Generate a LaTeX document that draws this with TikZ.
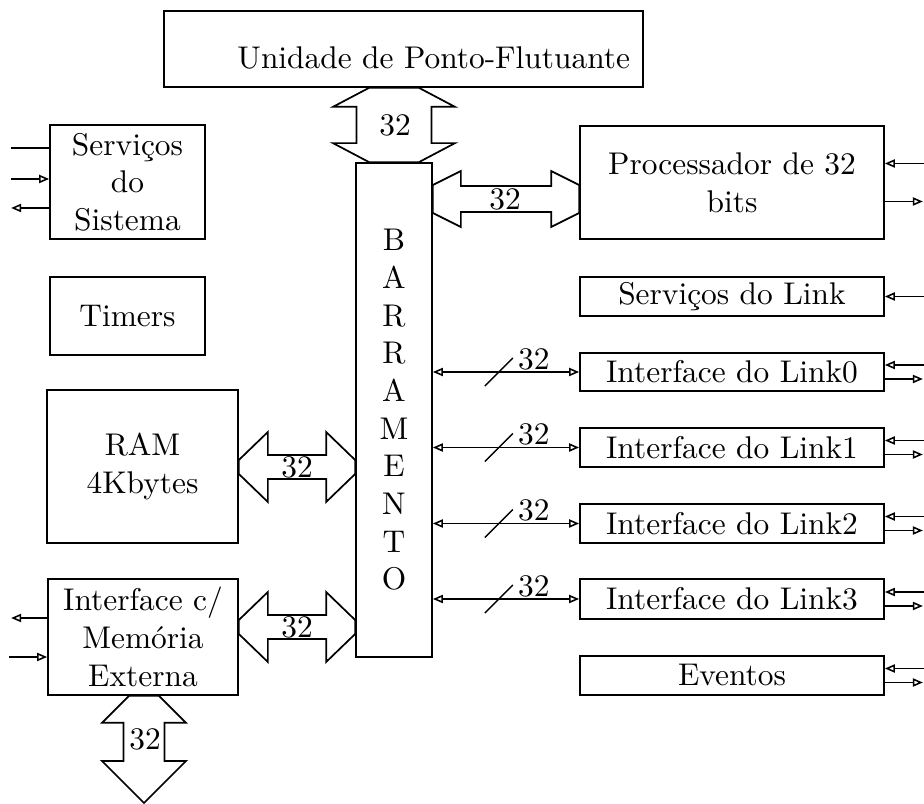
\documentclass[tikz,border=0pt]{standalone}
\usetikzlibrary{arrows.meta,calc}

% wide bus arrow, horizontal: #1 left end, #2 right end, #3 half shaft, #4 half head, #5 head length, #6 half tip
\newcommand\fatH[6]{\draw[fat]
  ($(#1)+(0,-#6)$) -- ($(#1)+(#5,-#4)$) -- ($(#1)+(#5,-#3)$) --
  ($(#2)+(-#5,-#3)$) -- ($(#2)+(-#5,-#4)$) -- ($(#2)+(0,-#6)$) --
  ($(#2)+(0,#6)$) -- ($(#2)+(-#5,#4)$) -- ($(#2)+(-#5,#3)$) --
  ($(#1)+(#5,#3)$) -- ($(#1)+(#5,#4)$) -- ($(#1)+(0,#6)$) -- cycle;}
% wide bus arrow, vertical: #1 top, #2 bottom, #3 half shaft, #4 half head,
% #5/#6 top head length / half tip, #7/#8 bottom head length / half tip
\newcommand\fatV[8]{\draw[fat]
  ($(#1)+(-#6,0)$) -- ($(#1)+(-#4,#5)$) -- ($(#1)+(-#3,#5)$) --
  ($(#2)+(-#3,-#7)$) -- ($(#2)+(-#4,-#7)$) -- ($(#2)+(-#8,0)$) --
  ($(#2)+(#8,0)$) -- ($(#2)+(#4,-#7)$) -- ($(#2)+(#3,-#7)$) --
  ($(#1)+(#3,#5)$) -- ($(#1)+(#4,#5)$) -- ($(#1)+(#6,0)$) -- cycle;}

\tikzset{
  box/.style={draw, line width=0.55pt, inner sep=0pt, align=center},
  sz/.style n args={2}{minimum width=#1*0.3185pt, minimum height=#2*0.3185pt},
  fat/.style={line width=0.55pt, line join=miter},
  wire/.style={line width=0.5pt},
  num/.style={inner sep=1pt},
  >={Triangle[open,length=3.2pt,width=2.6pt]},
}

\begin{document}
\begin{tikzpicture}[x=0.3185pt, y=-0.3185pt]
\useasboundingbox (0,0) rectangle (924,804);

% blocks
\node[box, sz={479}{76}, text width=453*0.3185pt, align=right,
      text height=12.5pt, text depth=0pt]
                          (fpu)    at (403.5,49)   {Unidade de Ponto-Flutuante};
\node[box, sz={76}{494}]  (bus)    at (394,410)    {B\\A\\R\\R\\A\\M\\E\\N\\T\\O};
\node[box, sz={155}{114}] (sist)   at (127.5,182)  {Serviços\\do\\Sistema};
\node[box, sz={155}{78}]  (timers) at (127.5,316)  {Timers};
\node[box, sz={191}{153}] (ram)    at (142.5,466.5){RAM\\4Kbytes};
\node[box, sz={190}{116}] (mem)    at (143,637)    {Interface c/\\Memória\\Externa};
\node[box, sz={304}{113}] (proc)   at (732,182.5)  {Processador de 32\\bits};
\node[box, sz={304}{39}]  (slink)  at (732,296.5)  {Serviços do Link};
\node[box, sz={304}{38}]  (l0)     at (732,372)    {Interface do Link0};
\node[box, sz={304}{39}]  (l1)     at (732,447.5)  {Interface do Link1};
\node[box, sz={304}{39}]  (l2)     at (732,523.5)  {Interface do Link2};
\node[box, sz={304}{40}]  (l3)     at (732,599)    {Interface do Link3};
\node[box, sz={304}{39}]  (ev)     at (732,675.5)  {Eventos};

% wide 32-bit paths
\coordinate (yproc) at (500,199);
\coordinate (yram)  at (300,467);
\coordinate (ymem)  at (300,627);
\coordinate (xext)  at (144,803);
\coordinate (fpuB)  at (bus.north |- fpu.south);
\coordinate (procA) at (bus.east |- yproc);
\coordinate (procB) at (proc.west |- yproc);
\coordinate (ramA)  at (ram.east |- yram);
\coordinate (ramB)  at (bus.west |- yram);
\coordinate (memA)  at (mem.east |- ymem);
\coordinate (memB)  at (bus.west |- ymem);
\coordinate (extA)  at (mem.south -| xext);

\fatV{fpuB}{bus.north}{37.5}{61}{19}{25}{19}{25}
\fatH{procA}{procB}{13}{28}{28}{14}
\fatH{ramA}{ramB}{12}{35}{29}{7}
\fatH{memA}{memB}{12}{35}{29}{7}
\fatV{extA}{xext}{20.5}{42}{27}{15}{42}{0}

\node[num] (n1) at (395,125) {32};
\node[num] (n2) at (505,199) {32};
\node[num] (n3) at (297,467) {32};
\node[num] (n4) at (297,627) {32};
\node[num] (n5) at (145,739) {32};

% 32-bit link buses
\foreach \n in {l0,l1,l2,l3} {
  \draw[wire, <->] (bus.east |- \n.west) -- (\n.west);
  \draw[wire] ($(bus.east |- \n.west)+(52,14)$) -- ++(28,-28);
  \node[num] at ($(bus.east |- \n.west)+(101,-13)$) {32};
}

% external signals, right side
\draw[wire, ->] ($(proc.east)+(40,-19)$) -- ($(proc.east)+(0,-19)$);
\draw[wire, ->] ($(proc.east)+(0,19)$) -- ($(proc.east)+(38,19)$);
\draw[wire, ->] ($(slink.east)+(40,0)$) -- (slink.east);
\foreach \n in {l0,l1,l2,l3,ev} {
  \draw[wire, ->] ($(\n.east)+(40,-7)$) -- ($(\n.east)+(0,-7)$);
  \draw[wire, ->] ($(\n.east)+(0,7)$) -- ($(\n.east)+(38,7)$);
}

% external signals, left side
\draw[wire] ($(sist.west)+(-38,-34)$) -- ($(sist.west)+(0,-34)$);
\draw[wire, ->] ($(sist.west)+(-38,-3)$) -- ($(sist.west)+(0,-3)$);
\draw[wire, ->] ($(sist.west)+(0,26)$) -- ($(sist.west)+(-38,26)$);
\draw[wire, ->] ($(mem.west)+(0,-19)$) -- ($(mem.west)+(-36,-19)$);
\draw[wire, ->] ($(mem.west)+(-38,20)$) -- ($(mem.west)+(0,20)$);
\end{tikzpicture}
\end{document}
